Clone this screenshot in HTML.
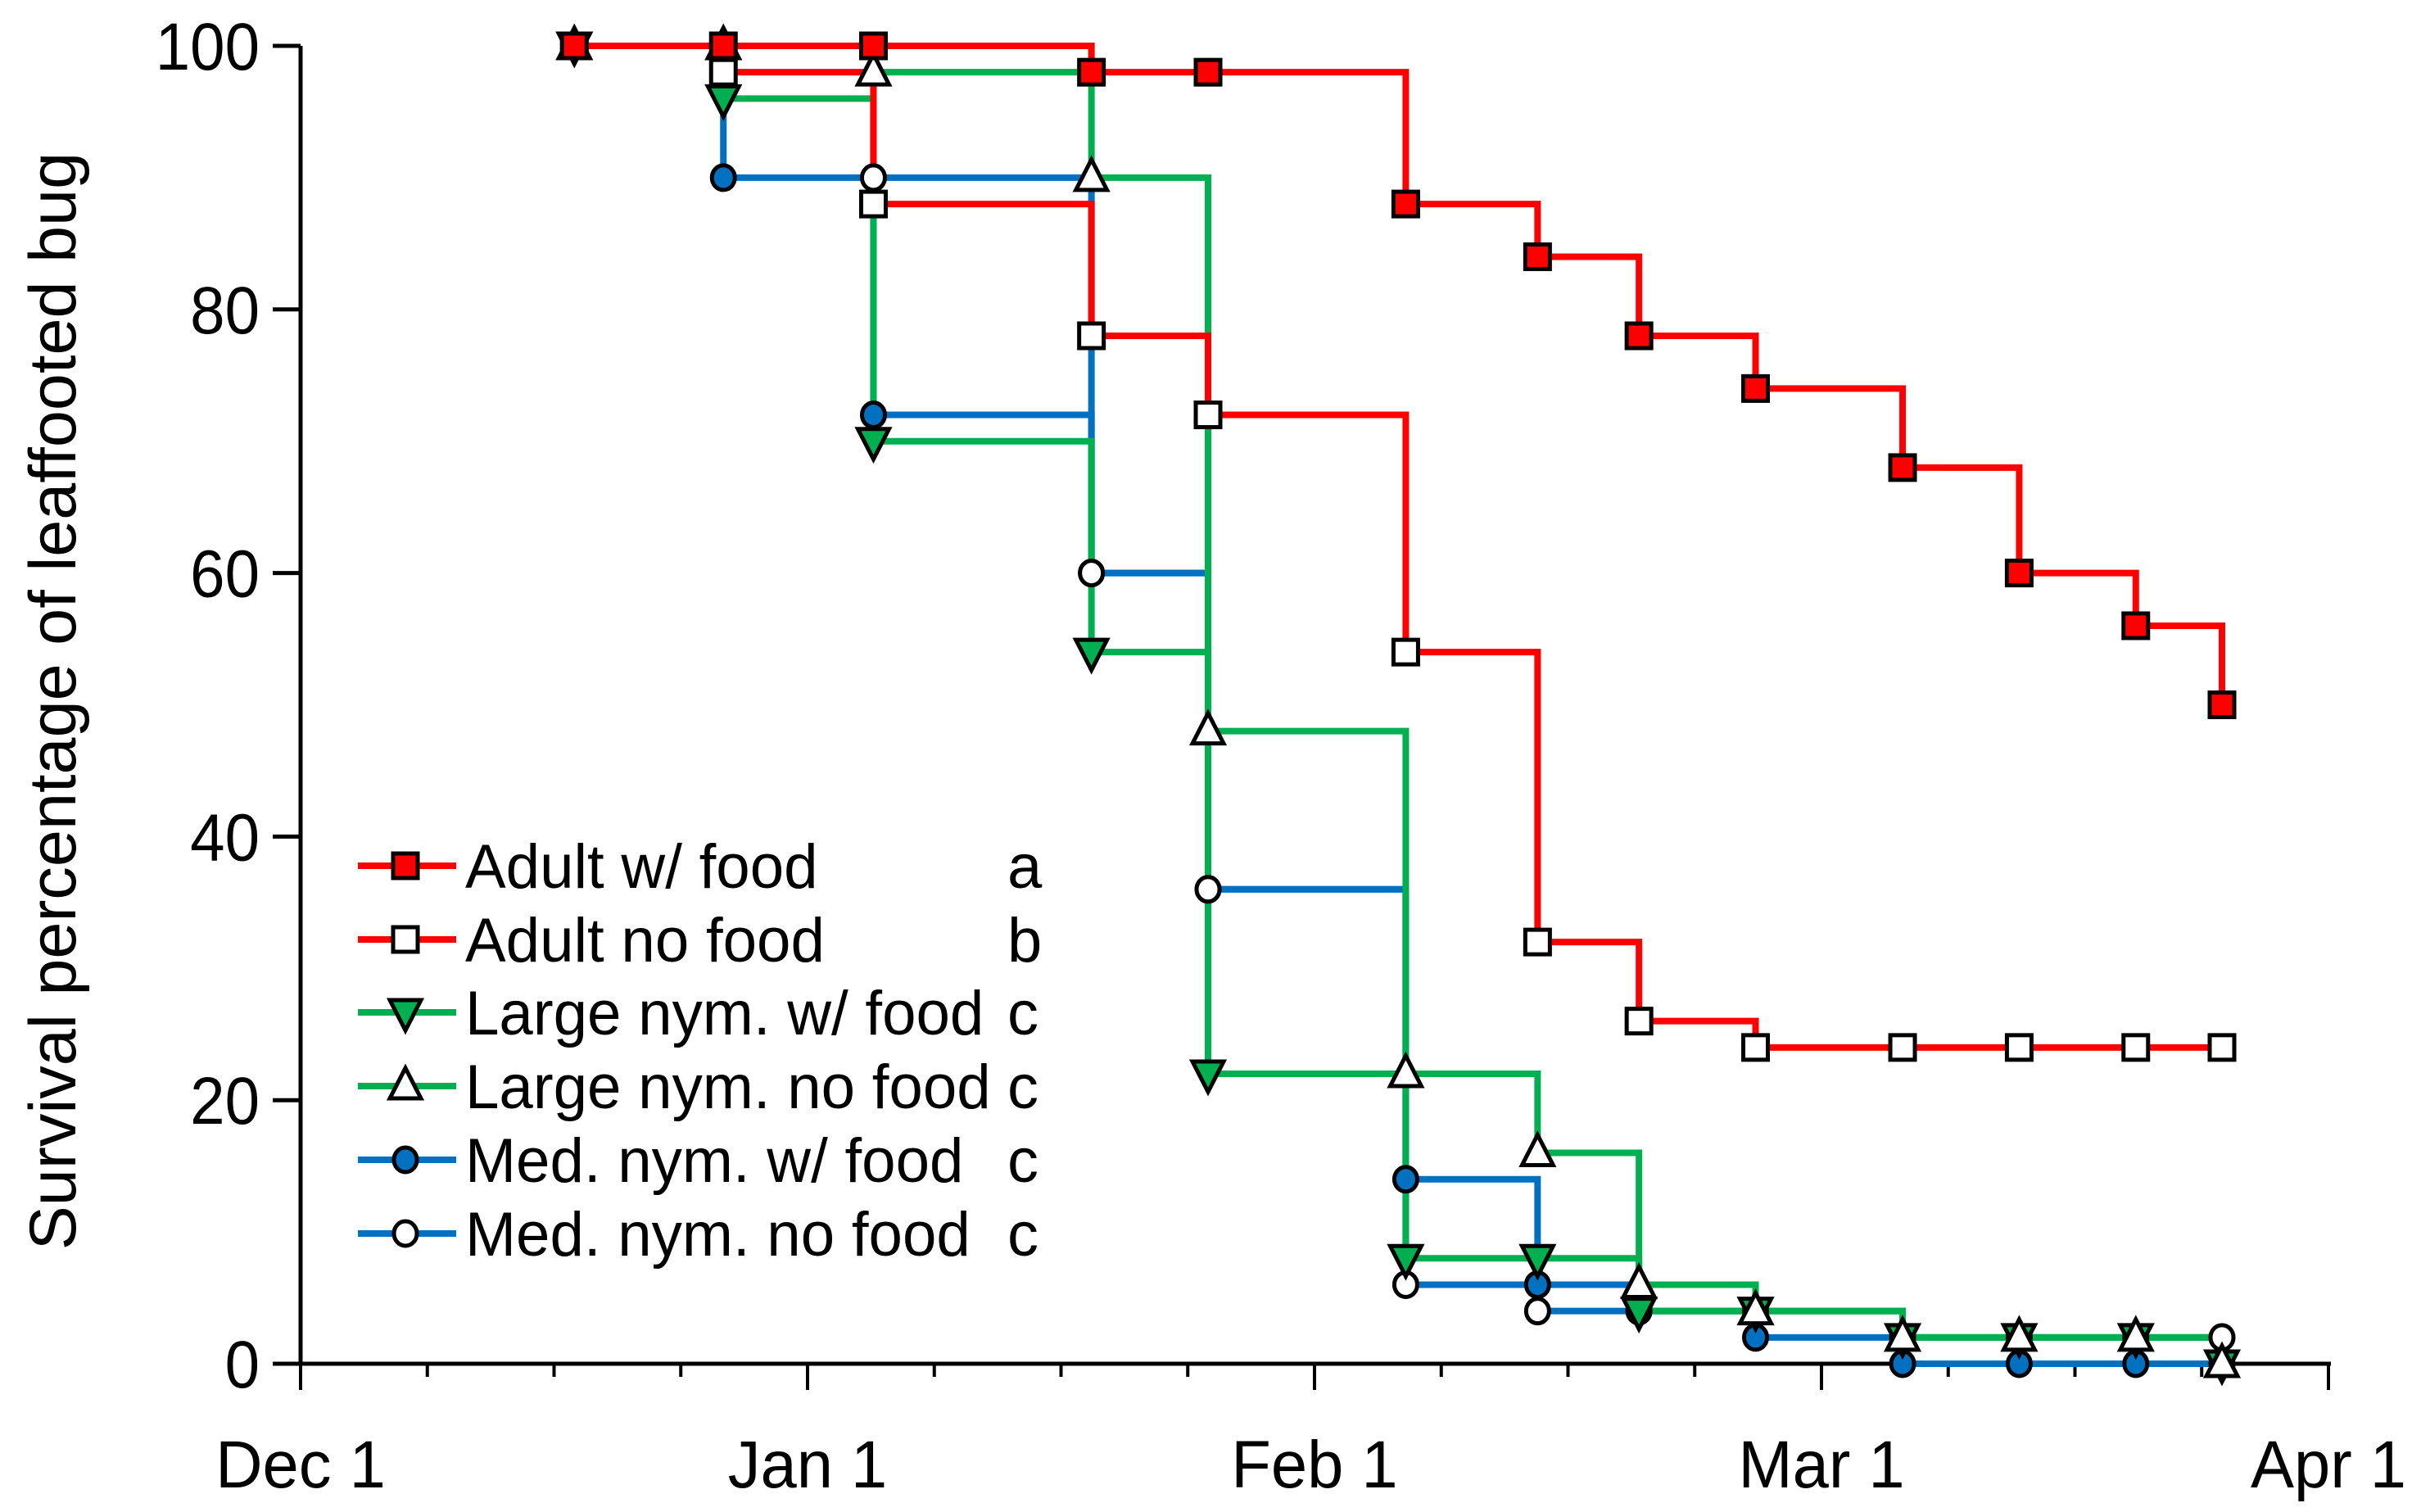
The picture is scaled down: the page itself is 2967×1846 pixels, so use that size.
<!DOCTYPE html>
<html><head><meta charset="utf-8"><style>
html,body{margin:0;padding:0;background:#fff}
svg{display:block}
text{font-family:"Liberation Sans",Arial,sans-serif;fill:#000}
</style></head><body>
<svg id="chart" width="2967" height="1846" viewBox="0 0 2967 1846" xmlns="http://www.w3.org/2000/svg">
<g id="plot"></g>
</svg>
<script>
// time in months after Dec 1
const times = [0.54, 0.834, 1.13, 1.56, 1.79, 2.18, 2.44, 2.64, 2.87, 3.16, 3.39, 3.62, 3.79];
const adultFood   = [100,100,100,98,98,88,84,78,74,68,60,56,50];
const adultNoFood = [100,98,88,78,72,54,32,26,24,24,24,24,24];
const largeFood   = [100,96,70,54,22,8,8,4,4,2,2,2,0];
const largeNoFood = [100,100,98,90,48,22,16,6,4,2,2,2,0];
const medFood     = [100,90,72,60,36,14,6,4,2,0,0,0,0];
const medNoFood   = [100,100,90,60,36,6,4,4,4,2,2,2,2];
const seriesNames = ["Adult w/ food","Adult no food","Large nym. w/ food","Large nym. no food","Med. nym. w/ food","Med. nym. no food"];
const seriesLetters = ["a","b","c","c","c","c"];
const xTickLabels = ["Dec 1","Jan 1","Feb 1","Mar 1","Apr 1"];
const yTickValues = [0,20,40,60,80,100];

const NS="http://www.w3.org/2000/svg";
const X0=367, X1=2843, Y0=1665, Y100=56;
const xs = m => X0 + (X1-X0)*m/4;
const ys = v => Y0 + (Y100-Y0)*v/100;
const g=document.getElementById('plot');
function el(tag, attrs, parent){const e=document.createElementNS(NS,tag);for(const k in attrs)e.setAttribute(k,attrs[k]);(parent||g).appendChild(e);return e;}

const styles=[
 {c:"#ff0000",m:"sq",f:"#ff0000",d:adultFood},
 {c:"#ff0000",m:"sq",f:"#ffffff",d:adultNoFood},
 {c:"#00b050",m:"tdown",f:"#00b050",d:largeFood},
 {c:"#00b050",m:"tup",f:"#ffffff",d:largeNoFood},
 {c:"#0070c0",m:"ci",f:"#0070c0",d:medFood},
 {c:"#0070c0",m:"ci",f:"#ffffff",d:medNoFood}
];
function marker(type,cx,cy,fill,parent,name){
  let e;
  if(type==="sq") e=el('rect',{x:cx-15,y:cy-15,width:30,height:30,fill:fill,stroke:"#000","stroke-width":5},parent);
  else if(type==="ci") e=el('ellipse',{cx:cx,cy:cy,rx:14,ry:15,fill:fill,stroke:"#000","stroke-width":5},parent);
  else if(type==="tdown") e=el('polygon',{points:`${cx-19},${cy-15} ${cx+19},${cy-15} ${cx},${cy+22}`,fill:fill,stroke:"#000","stroke-width":5},parent);
  else e=el('polygon',{points:`${cx-19},${cy+15} ${cx+19},${cy+15} ${cx},${cy-22}`,fill:fill,stroke:"#000","stroke-width":5},parent);
  
  
  return e;
}

// axes
const ax=el('g',{});


const xa=el('line',{x1:X0-34,y1:Y0,x2:X1+3,y2:Y0,stroke:"#000","stroke-width":5},ax);


const ya=el('line',{x1:X0,y1:Y0+2,x2:X0,y2:Y100,stroke:"#000","stroke-width":5},ax);


for(let i=0;i<=16;i++){
  const m=i/4, major=(i%4===0);
  const t=el('line',{x1:xs(m),y1:Y0,x2:xs(m),y2:Y0+(major?32:16),stroke:"#000","stroke-width":4},ax);
  
  
}
xTickLabels.forEach((lab,i)=>{
  const t=el('text',{x:xs(i),y:1816,"font-size":82,"text-anchor":"middle",transform:`translate(${xs(i)},0) scale(0.97,1) translate(${-xs(i)},0)`},ax);
  t.textContent=lab;
  
  
});
yTickValues.forEach(v=>{
  const t=el('line',{x1:X0-34,y1:ys(v),x2:X0,y2:ys(v),stroke:"#000","stroke-width":5},ax);
  
  
  const l=el('text',{x:317,y:ys(v)+29,"font-size":82,"text-anchor":"end",transform:`translate(317,0) scale(0.93,1) translate(-317,0)`},ax);
  l.textContent=String(v);
  
  
});
const yt=el('text',{x:0,y:0,"font-size":81,"text-anchor":"middle",transform:"translate(92,856) rotate(-90)"},ax);
yt.textContent="Survival percentage of leaffooted bug";



// series lines (medium first, then large, then adult)
[5,4,3,2,1,0].forEach(k=>{
  const s=styles[k];
  let d=`M${xs(times[0])},${ys(s.d[0])}`;
  for(let i=1;i<times.length;i++){ d+=` H${xs(times[i])} V${ys(s.d[i])}`; }
  const p=el('path',{d:d,fill:"none",stroke:s.c,"stroke-width":8});
  
  
});
// markers
[4,5,2,3,1,0].forEach(k=>{
  const s=styles[k];
  const grp=el('g',{});
  
  
  for(let i=0;i<times.length;i++) marker(s.m,xs(times[i]),ys(s.d[i]),s.f,grp,'data-point');
});

// legend
const lg=el('g',{});


const rows=[1057,1147,1236,1326,1416,1506];
styles.forEach((s,k)=>{
  const e=el('g',{},lg);
  
  
  el('line',{x1:437,y1:rows[k],x2:557,y2:rows[k],stroke:s.c,"stroke-width":8},e);
  marker(s.m,495,rows[k],s.f,e,'legend-marker');
  const t=el('text',{x:568,y:rows[k]+27,"font-size":76,transform:`translate(568,0) scale(0.98,1) translate(-568,0)`},e);
  t.textContent=seriesNames[k];
  
  
  const t2=el('text',{x:1230,y:rows[k]+27,"font-size":76},e);
  t2.textContent=seriesLetters[k];
  
  
});
</script>
</body></html>
